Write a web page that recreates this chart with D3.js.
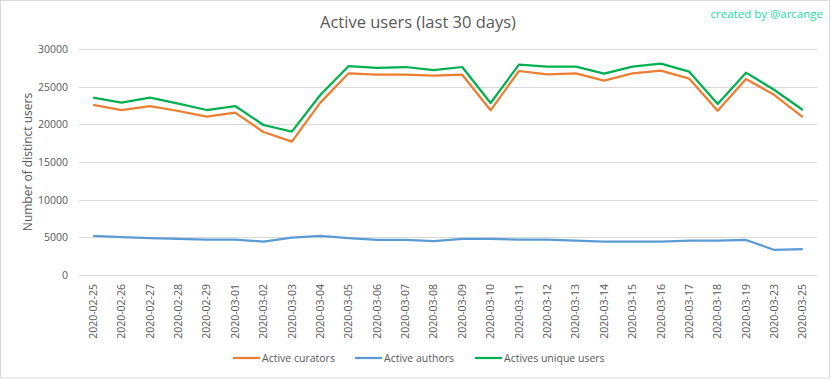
<!DOCTYPE html>
<html>
<head>
<meta charset="utf-8">
<script src="https://cdn.jsdelivr.net/npm/d3@7"></script>
<style>
  body { margin: 0; background: #fff; }
  text { font-family: "Open Sans", "DejaVu Sans", sans-serif; }
</style>
</head>
<body>
<div id="chart"></div>
<script>
// categories (x axis)
var dates = ["2020-02-25", "2020-02-26", "2020-02-27", "2020-02-28", "2020-02-29",
  "2020-03-01", "2020-03-02", "2020-03-03", "2020-03-04", "2020-03-05", "2020-03-06",
  "2020-03-07", "2020-03-08", "2020-03-09", "2020-03-10", "2020-03-11", "2020-03-12",
  "2020-03-13", "2020-03-14", "2020-03-15", "2020-03-16", "2020-03-17", "2020-03-18",
  "2020-03-19", "2020-03-23", "2020-03-25"]

var curators = [22570, 21900, 22430, 21770, 21020, 21550, 18980, 17700, 22880, 26770, 26590,
  26590, 26460, 26590, 21860, 27080, 26640, 26770, 25800, 26770, 27120, 26060, 21810,
  26020, 23890, 20970]

var authors = [5180, 5040, 4910, 4780, 4690, 4690, 4430, 4960, 5180, 4910, 4650, 4650, 4510,
  4780, 4780, 4690, 4690, 4560, 4430, 4430, 4430, 4560, 4560, 4650, 3320, 3450]

var uniqueUsers = [23540, 22880, 23540, 22740, 21900, 22430, 19910, 19030, 23890, 27740, 27480,
  27610, 27210, 27610, 22830, 27920, 27660, 27660, 26730, 27660, 28050, 26990, 22700,
  26860, 24560, 21900]

var yTicks = [0, 5000, 10000, 15000, 20000, 25000, 30000]

var width = 833
var height = 379
var margin = { top: 49, right: 16, bottom: 104, left: 79 }

var series = [
  { name: "Active curators", values: curators, color: "#ED7D31" },
  { name: "Active authors", values: authors, color: "#5B9BD5" },
  { name: "Actives unique users", values: uniqueUsers, color: "#00B050" }
]

var svg = d3.select("#chart")
  .append("svg")
  .attr("width", width)
  .attr("height", height)

// chart border
svg.append("rect")
  .attr("x", 0.5).attr("y", 0.5)
  .attr("width", width - 4).attr("height", height - 1.5)
  .attr("fill", "#fff")
  .attr("stroke", "#D9D9D9")

var x = d3.scaleBand()
  .domain(dates)
  .range([margin.left, width - margin.right])

var y = d3.scaleLinear()
  .domain([0, 30000])
  .range([height - margin.bottom, margin.top])

// gridlines
svg.append("g")
  .selectAll("line")
  .data(yTicks)
  .enter()
  .append("line")
  .attr("x1", margin.left)
  .attr("x2", width - margin.right)
  .attr("y1", d => Math.round(y(d)) + 0.5)
  .attr("y2", d => Math.round(y(d)) + 0.5)
  .attr("stroke", "#D9D9D9")
  .attr("stroke-width", 1)

// y axis labels
var yAxis = svg.append("g")
  .attr("transform", "translate(" + (margin.left - 11) + ",0)")
  .call(d3.axisLeft(y).tickValues(yTicks).tickFormat(d3.format("d")).tickSize(0).tickPadding(0))
yAxis.select(".domain").remove()
yAxis.selectAll("text")
  .attr("fill", "#595959")
  .style("font-size", "10.5px")

// x axis labels (rotated)
var xAxis = svg.append("g")
  .attr("transform", "translate(0," + (height - margin.bottom) + ")")
  .call(d3.axisBottom(x).tickSize(0))
xAxis.select(".domain").remove()
xAxis.selectAll("text")
  .attr("fill", "#595959")
  .style("font-size", "10.5px")
  .attr("text-anchor", "end")
  .attr("transform", "rotate(-90)")
  .attr("x", -9)
  .attr("y", 0)
  .attr("dy", "0.35em")

// y axis title
svg.append("text")
  .attr("transform", "translate(28," + ((margin.top + height - margin.bottom) / 2) + ") rotate(-90)")
  .attr("text-anchor", "middle")
  .attr("dy", "0.35em")
  .attr("fill", "#595959")
  .style("font-size", "12px")
  .text("Number of distinct users")

// title
svg.append("text")
  .attr("x", 418)
  .attr("y", 28)
  .attr("text-anchor", "middle")
  .attr("fill", "#595959")
  .style("font-size", "16.5px")
  .text("Active users (last 30 days)")

svg.append("text")
  .attr("x", 823)
  .attr("y", 18)
  .attr("text-anchor", "end")
  .attr("fill", "#1BDBA6")
  .style("font-size", "11.5px")
  .text("created by @arcange")

// lines
var line = d3.line()
  .x((d, i) => x(dates[i]) + x.bandwidth() / 2)
  .y(d => y(d))

svg.append("g")
  .selectAll("path")
  .data(series)
  .enter()
  .append("path")
  .attr("d", d => line(d.values))
  .attr("fill", "none")
  .attr("stroke", d => d.color)
  .attr("stroke-width", 2.25)
  .attr("stroke-linejoin", "round")

// legend
var legendX = [233, 355, 475]
var legend = svg.append("g")
  .selectAll("g")
  .data(series)
  .enter()
  .append("g")
  .attr("transform", (d, i) => "translate(" + legendX[i] + ",358)")

legend.append("line")
  .attr("x1", 0).attr("x2", 27)
  .attr("stroke", d => d.color)
  .attr("stroke-width", 2.25)

legend.append("text")
  .attr("x", 29)
  .attr("dy", "0.35em")
  .attr("fill", "#595959")
  .style("font-size", "10.5px")
  .text(d => d.name)
</script>
</body>
</html>
